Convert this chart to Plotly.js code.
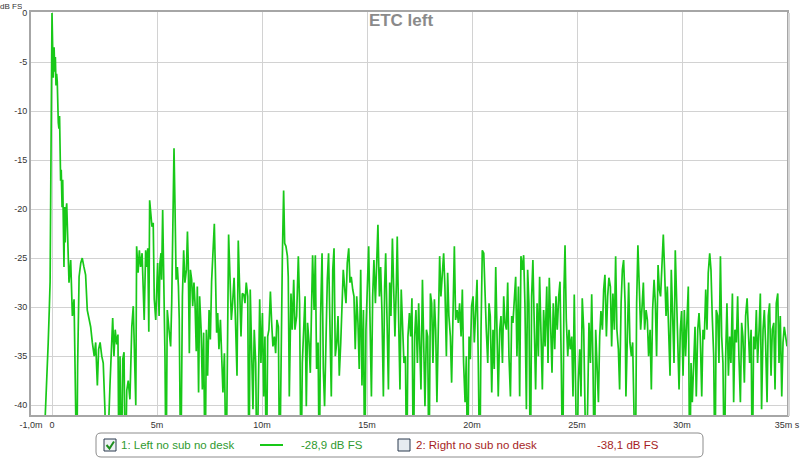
<!DOCTYPE html>
<html>
<head>
<meta charset="utf-8">
<script src="https://cdn.plot.ly/plotly-3.0.1.min.js"></script>
<style>
  html, body { margin: 0; padding: 0; background: #ffffff; }
  #chart { width: 800px; height: 459px; }
</style>
</head>
<body>
<div id="chart"></div>
<script>
// ---- Data (time in ms, level in dB FS) ----
const timeMs = [
  -1.0, -0.36, -0.33, -0.25, -0.18, -0.13, -0.09, 0.0, 0.03, 0.06,
  0.10, 0.13, 0.16, 0.19, 0.22, 0.25, 0.30, 0.33, 0.36, 0.38,
  0.41, 0.44, 0.48, 0.51, 0.54, 0.57, 0.60, 0.63, 0.66, 0.70,
  0.75, 0.81, 0.89, 0.97, 1.05, 1.11, 1.18, 1.22, 1.29, 1.37,
  1.44, 1.52, 1.60, 1.68, 1.76, 1.84, 1.92, 2.01, 2.08, 2.16,
  2.22, 2.29, 2.37, 2.44, 2.52, 2.60, 2.76, 2.89, 2.95, 3.01,
  3.08, 3.14, 3.19, 3.24, 3.30, 3.37, 3.43, 3.49, 3.56, 3.63,
  3.71, 3.80, 3.87, 3.94, 3.99, 4.03, 4.10, 4.16, 4.22, 4.29,
  4.35, 4.39, 4.46, 4.52, 4.56, 4.61, 4.65, 4.71, 4.76, 4.82,
  4.87, 4.94, 5.03, 5.10, 5.14, 5.19, 5.22, 5.27, 5.33, 5.38,
  5.43, 5.49, 5.57, 5.65, 5.70, 5.81, 5.86, 5.91, 5.97, 6.02,
  6.06, 6.13, 6.21, 6.27, 6.33, 6.40, 6.45, 6.49, 6.54, 6.59,
  6.65, 6.70, 6.76, 6.81, 6.87, 6.92, 6.98, 7.03, 7.10, 7.16,
  7.22, 7.29, 7.35, 7.41, 7.48, 7.54, 7.60, 7.67, 7.73, 7.78,
  7.84, 7.89, 7.95, 8.02, 8.08, 8.14, 8.21, 8.29, 8.35, 8.41,
  8.48, 8.54, 8.60, 8.67, 8.73, 8.81, 8.87, 8.94, 9.00, 9.06,
  9.13, 9.19, 9.25, 9.32, 9.38, 9.44, 9.51, 9.57, 9.63, 9.70,
  9.76, 9.83, 9.89, 9.95, 10.02, 10.08, 10.14, 10.21, 10.27, 10.33,
  10.40, 10.46, 10.52, 10.59, 10.65, 10.71, 10.78, 10.84, 10.90, 10.97,
  11.03, 11.08, 11.14, 11.21, 11.25, 11.30, 11.38, 11.44, 11.51, 11.57,
  11.65, 11.73, 11.79, 11.86, 11.92, 11.98, 12.05, 12.11, 12.17, 12.24,
  12.30, 12.37, 12.41, 12.48, 12.54, 12.60, 12.67, 12.73, 12.79, 12.86,
  12.92, 12.98, 13.05, 13.11, 13.17, 13.24, 13.30, 13.37, 13.43, 13.49,
  13.56, 13.62, 13.68, 13.75, 13.81, 13.87, 13.94, 14.00, 14.06, 14.13,
  14.19, 14.25, 14.32, 14.38, 14.44, 14.51, 14.57, 14.63, 14.70, 14.76,
  14.83, 14.89, 14.95, 15.02, 15.08, 15.14, 15.21, 15.27, 15.33, 15.40,
  15.46, 15.52, 15.59, 15.65, 15.71, 15.78, 15.84, 15.89, 15.95, 16.02,
  16.08, 16.14, 16.21, 16.27, 16.33, 16.40, 16.44, 16.51, 16.57, 16.63,
  16.70, 16.76, 16.83, 16.89, 16.95, 17.02, 17.08, 17.14, 17.21, 17.27,
  17.33, 17.40, 17.46, 17.51, 17.57, 17.64, 17.70, 17.76, 17.83, 17.89,
  17.95, 18.02, 18.08, 18.14, 18.21, 18.27, 18.33, 18.40, 18.46, 18.52,
  18.59, 18.65, 18.71, 18.78, 18.84, 18.90, 18.97, 19.03, 19.10, 19.16,
  19.22, 19.29, 19.35, 19.41, 19.48, 19.54, 19.60, 19.67, 19.73, 19.79,
  19.86, 19.92, 19.98, 20.05, 20.11, 20.17, 20.24, 20.30, 20.37, 20.43,
  20.49, 20.56, 20.62, 20.68, 20.75, 20.81, 20.87, 20.94, 21.00, 21.06,
  21.13, 21.19, 21.25, 21.32, 21.38, 21.45, 21.51, 21.57, 21.64, 21.70,
  21.76, 21.83, 21.89, 21.95, 22.02, 22.08, 22.14, 22.21, 22.27, 22.33,
  22.40, 22.46, 22.52, 22.59, 22.65, 22.71, 22.78, 22.84, 22.90, 22.97,
  23.03, 23.10, 23.16, 23.22, 23.29, 23.35, 23.41, 23.48, 23.56, 23.62,
  23.68, 23.75, 23.81, 23.87, 23.94, 24.00, 24.06, 24.13, 24.19, 24.25,
  24.32, 24.38, 24.43, 24.49, 24.56, 24.62, 24.68, 24.75, 24.81, 24.87,
  24.94, 25.00, 25.06, 25.13, 25.19, 25.25, 25.32, 25.38, 25.44, 25.51,
  25.57, 25.64, 25.70, 25.76, 25.83, 25.89, 25.95, 26.02, 26.08, 26.14,
  26.21, 26.27, 26.33, 26.40, 26.46, 26.52, 26.59, 26.65, 26.71, 26.78,
  26.84, 26.90, 26.97, 27.03, 27.10, 27.16, 27.22, 27.29, 27.33, 27.40,
  27.46, 27.52, 27.59, 27.65, 27.71, 27.78, 27.84, 27.90, 27.97, 28.03,
  28.10, 28.16, 28.22, 28.29, 28.35, 28.41, 28.48, 28.54, 28.60, 28.67,
  28.73, 28.79, 28.86, 28.92, 28.98, 29.05, 29.11, 29.17, 29.24, 29.30,
  29.37, 29.43, 29.49, 29.56, 29.62, 29.68, 29.75, 29.86, 29.92, 29.98,
  30.05, 30.11, 30.17, 30.24, 30.30, 30.37, 30.43, 30.49, 30.56, 30.62,
  30.68, 30.75, 30.81, 30.87, 30.94, 31.00, 31.06, 31.13, 31.19, 31.25,
  31.32, 31.38, 31.44, 31.51, 31.57, 31.63, 31.70, 31.76, 31.83, 31.89,
  31.95, 32.02, 32.08, 32.14, 32.21, 32.27, 32.33, 32.40, 32.46, 32.52,
  32.59, 32.65, 32.71, 32.78, 32.84, 32.90, 32.97, 33.03, 33.10, 33.16,
  33.22, 33.29, 33.35, 33.41, 33.48, 33.54, 33.60, 33.67, 33.73, 33.79,
  33.86, 33.92, 33.98, 34.05, 34.11, 34.17, 34.24, 34.30, 34.37, 34.43,
  34.49, 34.56, 34.62, 34.68, 34.75, 34.81, 34.87, 35.0
];

const levelDb = [
  -48, -48, -41.5, -36.0, -33.6, -30.3, -27.4, 0.0, -3.2, -6.6,
  -3.5, -6.0, -4.5, -7.4, -6.2, -7.0, -11.2, -11.8, -10.5, -12.5,
  -17.1, -16.0, -19.8, -17.0, -20.4, -25.9, -19.8, -23.4, -20.4, -19.4,
  -23.1, -27.5, -25.2, -30.9, -29.2, -37.0, -48, -36.0, -26.9, -25.5,
  -25.0, -25.9, -26.7, -30.3, -31.3, -32.0, -33.6, -35.0, -33.6, -38.0,
  -34.3, -33.6, -35.0, -35.7, -40.4, -48, -38.0, -31.1, -35.0, -32.3,
  -33.8, -32.8, -48, -35.0, -48, -35.3, -34.6, -48, -38.5, -37.5,
  -39.4, -32.0, -29.9, -34.8, -40.0, -23.8, -26.5, -24.2, -25.9, -24.5,
  -28.2, -31.3, -24.2, -25.9, -24.0, -32.5, -19.1, -20.4, -21.8, -21.4,
  -29.2, -31.3, -25.5, -30.9, -25.5, -24.5, -27.2, -20.1, -28.9, -35.0,
  -48, -30.3, -32.3, -34.0, -29.6, -13.8, -20.1, -27.2, -25.9, -27.9,
  -31.3, -48, -28.9, -24.2, -27.5, -26.2, -22.3, -25.5, -34.7, -26.2,
  -27.2, -29.9, -27.5, -29.6, -34.5, -27.9, -38.7, -28.9, -32.3, -38.4,
  -32.6, -48, -32.3, -37.0, -30.3, -33.3, -27.4, -23.5, -21.5, -26.2,
  -32.6, -30.6, -34.3, -31.3, -34.3, -38.7, -34.7, -48, -35.7, -22.6,
  -27.2, -31.3, -29.6, -27.0, -30.9, -37.0, -23.2, -28.9, -33.0, -28.6,
  -28.7, -29.6, -27.5, -28.9, -48, -28.2, -34.3, -40.4, -32.3, -35.7,
  -48, -35.0, -29.2, -35.7, -30.6, -39.1, -33.0, -48, -33.0, -32.3,
  -28.4, -31.6, -34.0, -33.0, -34.7, -31.3, -32.0, -48, -35.0, -24.8,
  -18.1, -23.5, -23.8, -24.8, -26.9, -39.1, -28.6, -32.3, -27.2, -32.3,
  -30.9, -24.8, -29.6, -48, -35.7, -33.0, -28.9, -40.1, -31.6, -33.6,
  -36.7, -28.9, -24.7, -30.3, -24.7, -36.3, -33.6, -48, -30.9, -24.5,
  -36.3, -40.1, -31.6, -27.2, -24.5, -30.9, -39.1, -26.2, -24.0, -35.0,
  -33.6, -30.9, -37.0, -33.6, -28.9, -26.2, -28.2, -29.6, -25.5, -24.0,
  -27.5, -26.9, -28.2, -28.9, -34.3, -28.9, -31.6, -36.3, -26.2, -38.0,
  -30.3, -48, -32.3, -28.2, -23.8, -30.9, -39.1, -28.9, -25.2, -29.6,
  -26.2, -21.6, -28.9, -25.9, -30.3, -39.1, -27.9, -24.5, -30.9, -38.4,
  -27.5, -30.9, -23.0, -28.9, -33.0, -27.5, -22.8, -31.6, -38.4, -28.2,
  -33.0, -35.7, -35.0, -48, -33.0, -30.6, -33.0, -29.1, -48, -33.0,
  -30.3, -35.7, -29.6, -33.0, -38.4, -27.2, -34.3, -40.1, -32.3, -33.0,
  -48, -28.6, -29.6, -35.7, -29.2, -32.3, -39.7, -30.9, -24.8, -28.9,
  -26.2, -24.5, -27.9, -35.0, -26.5, -30.9, -33.0, -37.7, -30.3, -23.8,
  -31.3, -30.3, -31.6, -29.6, -33.0, -28.2, -35.7, -39.7, -35.0, -48,
  -33.0, -35.3, -29.9, -28.9, -33.6, -29.6, -27.2, -35.7, -48, -32.3,
  -24.2, -24.5, -29.6, -32.3, -35.7, -29.6, -30.9, -38.7, -32.3, -36.3,
  -25.9, -33.0, -39.1, -32.3, -30.9, -35.7, -28.9, -31.6, -32.3, -27.5,
  -35.0, -39.1, -30.9, -31.6, -29.2, -26.9, -35.0, -27.9, -39.1, -24.8,
  -26.2, -24.7, -29.6, -40.4, -26.2, -29.6, -48, -28.9, -25.2, -33.0,
  -38.4, -29.6, -35.0, -26.9, -33.0, -38.4, -30.3, -34.0, -27.9, -35.7,
  -27.0, -33.6, -36.7, -29.6, -34.3, -28.9, -32.3, -28.9, -27.4, -35.7,
  -48, -28.2, -23.7, -31.3, -35.0, -32.3, -34.3, -33.0, -39.1, -28.7,
  -36.3, -48, -37.7, -34.3, -39.1, -29.1, -32.3, -40.4, -48, -39.7,
  -31.6, -35.7, -28.7, -35.7, -48, -32.3, -35.7, -39.7, -33.0, -30.4,
  -32.3, -28.2, -26.7, -33.0, -28.9, -27.0, -27.9, -34.0, -28.6, -32.3,
  -24.8, -32.3, -34.3, -38.4, -29.6, -26.2, -25.2, -29.6, -39.1, -33.6,
  -27.5, -33.6, -35.0, -33.6, -37.7, -48, -29.6, -23.7, -28.2, -32.3,
  -29.9, -27.5, -32.3, -30.3, -31.3, -35.0, -32.3, -38.4, -30.3, -27.2,
  -29.6, -35.0, -25.7, -28.2, -28.9, -25.5, -22.6, -26.2, -30.9, -27.9,
  -32.3, -37.0, -26.2, -32.3, -35.7, -24.2, -28.9, -38.4, -32.3, -30.4,
  -37.0, -30.3, -35.0, -29.9, -27.9, -48, -35.7, -39.7, -35.7, -32.0,
  -39.1, -32.3, -30.6, -33.0, -39.1, -32.3, -33.3, -28.2, -32.3, -26.5,
  -24.5, -26.2, -30.9, -35.0, -48, -30.3, -30.9, -35.7, -24.8, -33.0,
  -35.7, -48, -35.0, -29.6, -37.0, -33.0, -35.7, -28.6, -39.7, -32.3,
  -33.6, -28.9, -35.0, -39.7, -31.6, -33.0, -37.7, -30.9, -29.1, -33.6,
  -35.7, -32.3, -48, -33.0, -34.3, -30.3, -35.7, -32.3, -28.6, -40.4,
  -32.3, -30.3, -33.6, -39.7, -30.9, -29.6, -37.0, -32.3, -31.6, -38.4,
  -29.6, -28.6, -35.7, -30.9, -39.1, -33.6, -32.0, -34.0
];

const xTickVals = [-1, 0, 5, 10, 15, 20, 25, 30, 35];
const xTickText = ['-1,0m', '0', '5m', '10m', '15m', '20m', '25m', '30m', '35m s'];
const yTickVals = [0, -5, -10, -15, -20, -25, -30, -35, -40];
const yTickText = ['0', '-5', '-10', '-15', '-20', '-25', '-30', '-35', '-40'];

const chartTitle = 'ETC left';
const yUnit = 'dB FS';
const legendNames = ['1: Left no sub no desk', '2: Right no sub no desk'];
const legendValues = ['-28,9 dB FS', '-38,1 dB FS'];

// ---- Layout helpers (pixel -> paper) ----
const W = 800, H = 459;
const M = { l: 31, r: 13, t: 12, b: 44 };
const PW = W - M.l - M.r, PH = H - M.t - M.b;
const px = x => (x - M.l) / PW;
const py = y => (H - M.b - y) / PH;

const lineGreen = 'rgb(24,200,24)';
const textGreen = '#2f9a2f';
const textRed = '#a61e1e';
const font = 'Liberation Sans, Arial, sans-serif';

function roundedRect(x0, y0, x1, y1, r) {
  const rx = r / PW, ry = r / PH;
  const X0 = px(x0), X1 = px(x1), Y0 = py(y0), Y1 = py(y1);
  return `M ${X0 + rx},${Y0} L ${X1 - rx},${Y0} Q ${X1},${Y0} ${X1},${Y0 - ry} ` +
         `L ${X1},${Y1 + ry} Q ${X1},${Y1} ${X1 - rx},${Y1} L ${X0 + rx},${Y1} ` +
         `Q ${X0},${Y1} ${X0},${Y1 + ry} L ${X0},${Y0 - ry} Q ${X0},${Y0} ${X0 + rx},${Y0} Z`;
}

const shapes = [
  // legend box
  { type: 'path', xref: 'paper', yref: 'paper', path: roundedRect(96, 433, 703, 457, 5),
    line: { color: '#8c8c8c', width: 1 }, fillcolor: '#ffffff' },
  // checkbox 1 (checked)
  { type: 'rect', xref: 'paper', yref: 'paper', x0: px(104), x1: px(116), y0: py(439), y1: py(451),
    line: { color: '#2b3b4e', width: 1 }, fillcolor: '#eef1f4' },
  { type: 'path', xref: 'paper', yref: 'paper',
    path: `M ${px(106.5)},${py(445)} L ${px(109.5)},${py(448.5)} L ${px(114)},${py(441.5)}`,
    line: { color: '#1f8f1f', width: 2 } },
  // legend line sample
  { type: 'line', xref: 'paper', yref: 'paper', x0: px(260), x1: px(283), y0: py(445), y1: py(445),
    line: { color: lineGreen, width: 2 } },
  // checkbox 2 (unchecked)
  { type: 'rect', xref: 'paper', yref: 'paper', x0: px(398), x1: px(410), y0: py(439), y1: py(451),
    line: { color: '#2b3b4e', width: 1 }, fillcolor: '#e6ebf0' },
  // soft frame shadow (right side)
  { type: 'line', xref: 'paper', yref: 'paper', x0: px(789), x1: px(789), y0: py(13), y1: py(416),
    line: { color: '#d6d6d6', width: 2 } },
];

const annotations = [
  { text: yUnit, xref: 'paper', yref: 'paper', x: px(22.5), y: py(0.5), xanchor: 'right', yanchor: 'top',
    height: 8, borderpad: 0, valign: 'top',
    showarrow: false, font: { family: font, size: 8, color: '#333333' } },
  { text: legendNames[0], xref: 'paper', yref: 'paper', x: px(119), y: py(445), xanchor: 'left', yanchor: 'middle',
    showarrow: false, font: { family: font, size: 11.5, color: textGreen } },
  { text: legendValues[0], xref: 'paper', yref: 'paper', x: px(299), y: py(445), xanchor: 'left', yanchor: 'middle',
    showarrow: false, font: { family: font, size: 11.5, color: textGreen } },
  { text: legendNames[1], xref: 'paper', yref: 'paper', x: px(414), y: py(445), xanchor: 'left', yanchor: 'middle',
    showarrow: false, font: { family: font, size: 11.5, color: textRed } },
  { text: legendValues[1], xref: 'paper', yref: 'paper', x: px(595), y: py(445), xanchor: 'left', yanchor: 'middle',
    showarrow: false, font: { family: font, size: 11.5, color: textRed } },
];

const trace = {
  type: 'scatter', mode: 'lines',
  x: timeMs, y: levelDb,
  line: { color: lineGreen, width: 1.7 },
  hoverinfo: 'skip', showlegend: false
};

const layout = {
  width: W, height: H,
  margin: M,
  paper_bgcolor: '#ffffff', plot_bgcolor: '#ffffff',
  showlegend: false,
  title: { text: chartTitle, x: px(401), xanchor: 'center', xref: 'paper',
           y: 1 - 20 / H, yanchor: 'middle', yref: 'container',
           font: { family: font, size: 17, weight: 'bold', color: '#8a8a8a' } },
  xaxis: {
    range: [-1, 35], tickvals: xTickVals, ticktext: xTickText,
    showgrid: true, gridcolor: '#d2d2d2', gridwidth: 1, zeroline: false,
    showline: true, linecolor: '#a6a6a6', linewidth: 2, mirror: true,
    ticks: '', tickfont: { family: font, size: 9, color: '#333333' }
  },
  yaxis: {
    range: [-41, 0.1], tickvals: yTickVals, ticktext: yTickText,
    showgrid: true, gridcolor: '#d2d2d2', gridwidth: 1, zeroline: false,
    showline: true, linecolor: '#a6a6a6', linewidth: 2, mirror: true,
    ticks: '', ticklabelstandoff: 0, tickfont: { family: font, size: 9, color: '#333333' }
  },
  shapes: shapes,
  annotations: annotations
};

Plotly.newPlot('chart', [trace], layout, { staticPlot: true, displayModeBar: false });
</script>
</body>
</html>
